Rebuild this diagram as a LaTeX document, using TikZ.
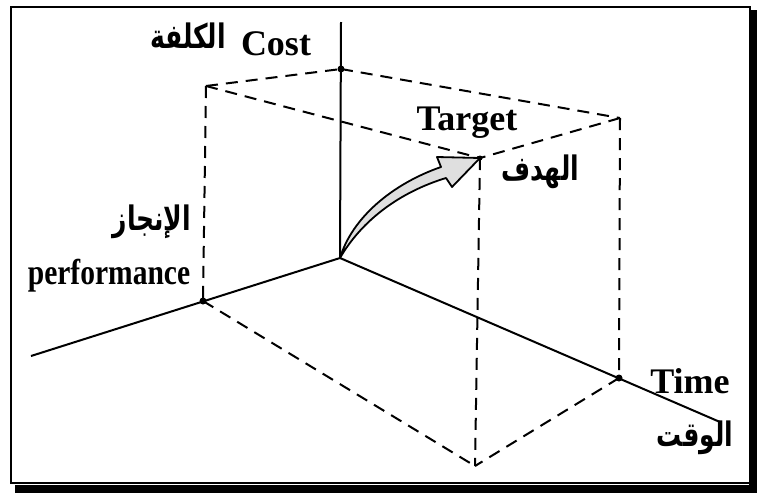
\documentclass[tikz,border=0pt]{standalone}
\usepackage{fontspec}
\setmainfont{Liberation Serif}
\newfontfamily\arabicfont[Script=Arabic]{DejaVu Sans}
\TeXXeTstate=1
\begin{document}
\begin{tikzpicture}[x=1pt,y=-1pt,
  axis/.style={line width=2pt},
  dsh/.style={line width=2pt, dash pattern=on 12pt off 8pt},
  lbl/.style={inner sep=0pt, font=\fontsize{36}{40}\selectfont\bfseries},
  albl/.style={inner sep=0pt, yscale=1.35, font=\fontsize{25}{28}\selectfont\arabicfont\bfseries},
  dot/.style={circle, fill=black, inner sep=0pt, minimum size=7pt}]
\useasboundingbox (0,0) rectangle (757,493);
% frame with shadow
\fill[black] (15,485) rectangle (757,493);
\fill[black] (749,10) rectangle (757,493);
\draw[line width=1.8pt] (11,7) rectangle (750,483);
% points
\coordinate (O) at (340,258);
\coordinate (Ctop) at (341,22);
\coordinate (Pend) at (31,356);
\coordinate (Tend) at (720,422);
\coordinate (C) at (341,69);
\coordinate (P) at (203,301);
\coordinate (T) at (619,378);
\coordinate (Pt) at (206,86);
\coordinate (G) at (480,158);
\coordinate (Tt) at (620,118);
\coordinate (D) at (475,466);
% axes
\draw[axis] (O) -- (Ctop);
\draw[axis] (O) -- (Pend);
\draw[axis] (O) -- (Tend);
% dashed box
\draw[dsh] (Pt) -- (P);
\draw[dsh] (Pt) -- (C);
\draw[dsh] (Pt) -- (G);
\draw[dsh] (C) -- (Tt);
\draw[dsh] (Tt) -- (G);
\draw[dsh] (G) -- (D);
\draw[dsh] (Tt) -- (T);
\draw[dsh] (P) -- (D);
\draw[dsh] (T) -- (D);
% dots
\node[dot] (cd) at (C) {};
\node[dot] (pd) at (P) {};
\node[dot] (td) at (T) {};
\node[dot, minimum size=5pt] (gd) at (G) {};
% curved arrow
\draw[line width=1.8pt, fill=gray!25, line join=round]
  (O) .. controls (352,218) and (392,184) .. (441,167)
  -- (437,157) -- (G) -- (452,187) -- (446,178)
  .. controls (400,192) and (362,220) .. (O) -- cycle;
% labels
\node[lbl] (cost) at (276,44) {Cost};
\node[albl] (costa) at (188,36) {\beginR الكلفة\endR};
\node[lbl] (target) at (467,123) {Target};
\node[albl] (targeta) at (540,172) {\beginR الهدف\endR};
\node[albl] (perfa) at (152,222) {\beginR الإنجاز\endR};
\node[lbl, xscale=0.82] (perf) at (109,276) {performance};
\node[lbl] (time) at (690,381) {Time};
\node[albl] (timea) at (695,438) {\beginR الوقت\endR};
\end{tikzpicture}
\end{document}
